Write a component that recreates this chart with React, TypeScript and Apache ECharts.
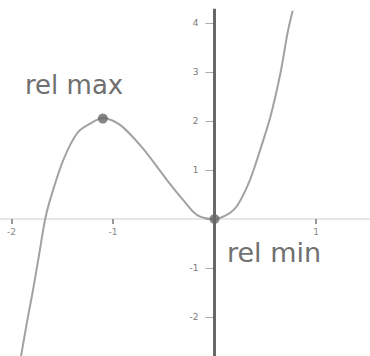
import React, { useEffect, useRef } from "react";
import * as echarts from "echarts";

// Hand-sketched cubic: points
const curveX = [-1.906, -1.847, -1.788, -1.729, -1.67, -1.62, -1.49, -1.35, -1.23, -1.1, -0.93, -0.71, -0.47, -0.31, -0.17, 0, 0.15, 0.23, 0.35, 0.45, 0.55, 0.65, 0.72, 0.77];
const curveY = [-2.8, -2.1, -1.45, -0.74, -0.02, 0.39, 1.2, 1.76, 1.94, 2.06, 1.92, 1.45, 0.8, 0.39, 0.08, 0, 0.12, 0.29, 0.8, 1.41, 2.08, 2.98, 3.8, 4.25];

// Marked extrema
const relMax = [-1.1, 2.05];
const relMin = [0, 0];

// Vertical axis drawn as a heavy pen stroke
const vAxisSpan = [4.29, -2.9];

// Tick labels written along each axis
const xTickLabels = ["-2", "-1", "1"];
const yTickLabels = ["-2", "-1", "1", "2", "3", "4"];

const relMaxLabel = "rel max";
const relMinLabel = "rel min";

export default function App() {
  const ref = useRef<HTMLDivElement>(null);

  useEffect(() => {
    if (!ref.current) return;
    const chart = echarts.init(ref.current, undefined, { renderer: "svg" });
    const unitX = 101.5;
    const unitY = 49;
    const originX = 214.5;
    const originY = 219;
    const xMin = -3, xMax = 2, yMin = -3, yMax = 5;
    const gridLeft = originX + xMin * unitX;
    const gridTop = originY - yMax * unitY;
    const gridW = (xMax - xMin) * unitX;
    const gridH = (yMax - yMin) * unitY;
    const gridBottomY = gridTop + gridH;

    const pick = (labels: string[]) => (v: number) =>
      labels.includes(String(v)) ? String(v) : "";

    chart.setOption({
      animation: false,
      backgroundColor: "#ffffff",
      grid: {
        left: gridLeft,
        top: gridTop,
        width: gridW,
        height: gridH,
        containLabel: false,
        outerBoundsMode: "none",
      },
      xAxis: {
        type: "value",
        position: "bottom",
        offset: -(gridBottomY - originY),
        min: xMin,
        max: xMax,
        interval: 1,
        splitLine: { show: false },
        axisLine: { show: true, onZero: false, lineStyle: { color: "#e6e6e6", width: 2 } },
        axisTick: { show: true, length: 5, lineStyle: { color: "#999", width: 2 } },
        axisLabel: { formatter: pick(xTickLabels), color: "#8a8a8a", fontSize: 9, margin: 8, fontFamily: "DejaVu Sans", hideOverlap: false },
      },
      yAxis: {
        type: "value",
        position: "left",
        offset: -(originX - gridLeft),
        min: yMin,
        max: yMax,
        interval: 1,
        splitLine: { show: false },
        axisLine: { show: false, onZero: false },
        axisTick: { show: true, length: 9, lineStyle: { color: "#aaa", width: 1 } },
        axisLabel: { formatter: pick(yTickLabels), color: "#7a7a7a", fontSize: 9, margin: 16, fontFamily: "DejaVu Sans", hideOverlap: false },
      },
      graphic: [
        {
          type: "text",
          left: 25,
          top: 72,
          style: { text: relMaxLabel, fill: "#707070", fontSize: 26, fontFamily: "DejaVu Sans" },
        },
        {
          type: "text",
          left: 227,
          top: 239,
          style: { text: relMinLabel, fill: "#707070", fontSize: 27, fontFamily: "DejaVu Sans" },
        },
      ],
      series: [
        {
          type: "line",
          data: vAxisSpan.map((y) => [0, y]),
          symbol: "none",
          clip: false,
          lineStyle: { color: "#686868", width: 3 },
          z: 3,
        },
        {
          type: "line",
          data: curveX.map((x, i) => [x, curveY[i]]),
          symbol: "none",
          smooth: 0.3,
          clip: false,
          lineStyle: { color: "#a2a2a2", width: 2 },
          z: 2,
        },
        {
          type: "scatter",
          data: [relMax, relMin],
          symbolSize: 10,
          itemStyle: { color: "#666" },
          z: 4,
        },
      ],
    });
    return () => chart.dispose();
  }, []);

  return <div ref={ref} style={{ position: "absolute", left: 0, top: 0, width: 370, height: 356 }} />;
}
